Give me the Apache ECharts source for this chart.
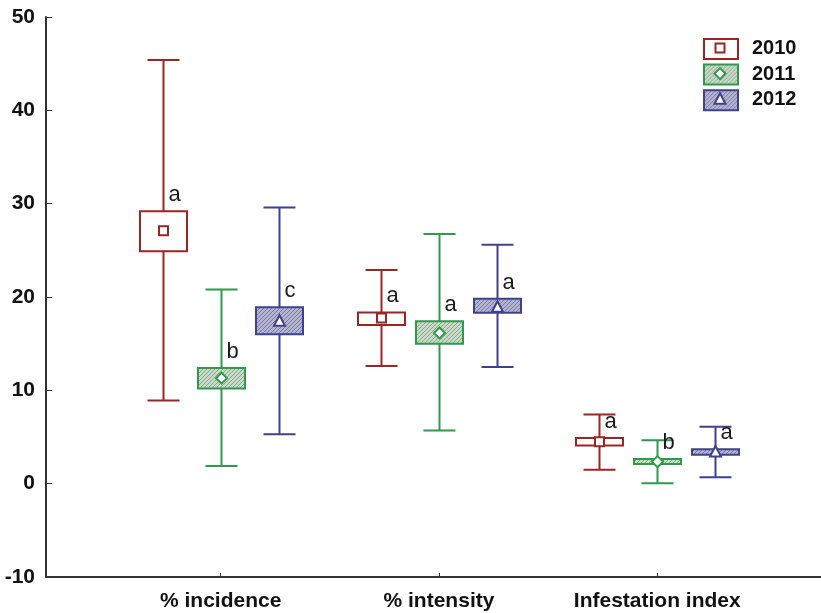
<!DOCTYPE html>
<html>
<head>
<meta charset="utf-8">
<script src="https://cdn.jsdelivr.net/npm/echarts@6/dist/echarts.min.js"></script>
<style>html,body{margin:0;padding:0;background:#fff;}#c{width:821px;height:613px;}</style>
</head>
<body>
<div id="c"></div>
<script>
const categories = ['% incidence', '% intensity', 'Infestation index'];
const years = ['2010', '2011', '2012'];
// per category: [lower whisker, box low, mean, box high, upper whisker]
const values2010 = [[8.9, 24.9, 27.1, 29.2, 45.4], [12.6, 17.0, 17.75, 18.35, 22.9], [1.5, 4.1, 4.5, 4.9, 7.4]];
const values2011 = [[1.9, 10.2, 11.3, 12.4, 20.8], [5.7, 15.0, 16.15, 17.4, 26.75], [0.05, 2.1, 2.36, 2.64, 4.64]];
const values2012 = [[5.3, 16.0, 17.4, 18.9, 29.6], [12.5, 18.3, 18.9, 19.8, 25.6], [0.7, 3.1, 3.4, 3.7, 6.1]];
const letters2010 = ['a', 'a', 'a'];
const letters2011 = ['b', 'a', 'b'];
const letters2012 = ['c', 'a', 'a'];
const yTicks = [-10, 0, 10, 20, 30, 40, 50];

const seriesValues = [values2010, values2011, values2012];
const seriesLetters = [letters2010, letters2011, letters2012];
const lineColors = ['#9a2525', '#2f9a4c', '#40408f'];
const markerTypes = ['square', 'diamond', 'triangle'];
const offsets = [-0.265, 0, 0.265];

function makePattern(bg, fg) {
  const cv = document.createElement('canvas');
  cv.width = 4; cv.height = 4;
  const ctx = cv.getContext('2d');
  ctx.fillStyle = bg; ctx.fillRect(0, 0, 4, 4);
  ctx.strokeStyle = fg; ctx.lineWidth = 1;
  ctx.beginPath();
  ctx.moveTo(0, 4); ctx.lineTo(4, 0);
  ctx.moveTo(-1, 1); ctx.lineTo(1, -1);
  ctx.moveTo(3, 5); ctx.lineTo(5, 3);
  ctx.stroke();
  return cv;
}
const fills = [
  '#ffffff',
  { image: makePattern('#c9dac9', '#8aa68a'), repeat: 'repeat' },
  { image: makePattern('#b4b4cf', '#7a7aa6'), repeat: 'repeat' }
];

function markerShape(type, cx, cy, color) {
  const s = { fill: '#fff', stroke: color, lineWidth: 2 };
  if (type === 'square') {
    return { type: 'rect', shape: { x: cx - 4.5, y: cy - 4.5, width: 9, height: 9 }, style: s, z2: 5 };
  } else if (type === 'diamond') {
    return { type: 'polygon', shape: { points: [[cx, cy - 5.5], [cx + 5.5, cy], [cx, cy + 5.5], [cx - 5.5, cy]] }, style: s, z2: 5 };
  }
  return { type: 'polygon', shape: { points: [[cx, cy - 6], [cx + 5.5, cy + 4.5], [cx - 5.5, cy + 4.5]] }, style: s, z2: 5 };
}

function makeRender(si) {
  return function (params, api) {
    const x = api.value(0);
    const pLow = api.coord([x, api.value(1)]);
    const pQ1 = api.coord([x, api.value(2)]);
    const pMean = api.coord([x, api.value(3)]);
    const pQ3 = api.coord([x, api.value(4)]);
    const pHigh = api.coord([x, api.value(5)]);
    const cx = Math.round(pLow[0]) + 0.5;
    const col = lineColors[si];
    const ls = { stroke: col, lineWidth: 2, fill: null };
    const bw = 47, cw = 32;
    const children = [
      { type: 'line', shape: { x1: cx, y1: pHigh[1], x2: cx, y2: pQ3[1] }, style: ls },
      { type: 'line', shape: { x1: cx, y1: pQ1[1], x2: cx, y2: pLow[1] }, style: ls },
      { type: 'line', shape: { x1: cx - cw / 2, y1: pHigh[1], x2: cx + cw / 2, y2: pHigh[1] }, style: ls },
      { type: 'line', shape: { x1: cx - cw / 2, y1: pLow[1], x2: cx + cw / 2, y2: pLow[1] }, style: ls },
      { type: 'rect', shape: { x: cx - bw / 2, y: pQ3[1], width: bw, height: pQ1[1] - pQ3[1] }, style: { fill: fills[si], stroke: col, lineWidth: 2 } },
      markerShape(markerTypes[si], cx, pMean[1], col),
      { type: 'text', x: cx + 5, y: pQ3[1] - 5, style: { text: seriesLetters[si][params.dataIndex], fill: '#1a1a1a', font: '22px "Liberation Sans", Arial, sans-serif', align: 'left', verticalAlign: 'bottom' } }
    ];
    return { type: 'group', children: children };
  };
}

const series = years.map(function (yr, si) {
  return {
    type: 'custom',
    name: yr,
    renderItem: makeRender(si),
    encode: { x: 0, y: [1, 2, 3, 4, 5] },
    data: seriesValues[si].map(function (v, ci) { return [ci + 1 + offsets[si]].concat(v); }),
    clip: false
  };
});

// legend drawn as graphic elements
const legendGraphics = [];
years.forEach(function (yr, si) {
  const top = 38 + si * 25.6;
  const col = lineColors[si];
  legendGraphics.push({ type: 'rect', left: 703, top: top, shape: { width: 34, height: 20 }, style: { fill: fills[si], stroke: col, lineWidth: 2 } });
  const m = markerShape(markerTypes[si], 720, top + 10, col);
  m.z = 10;
  legendGraphics.push(m);
  legendGraphics.push({ type: 'text', left: 752, top: top + 0.5, style: { text: yr, fill: '#111', font: 'bold 20px "Liberation Sans", Arial, sans-serif' } });
});

const chart = echarts.init(document.getElementById('c'), null, { renderer: 'canvas' });
chart.setOption({
  animation: false,
  backgroundColor: '#fff',
  grid: { left: 46, top: 17, right: 0, bottom: 36, containLabel: false },
  xAxis: {
    type: 'value', min: 0.2, max: 3.75,
    splitLine: { show: false },
    axisLine: { show: true, onZero: false, lineStyle: { color: '#333', width: 2 } },
    axisTick: { show: true, inside: true, length: 4, customValues: [1, 2, 3], lineStyle: { color: '#333', width: 1 } },
    axisLabel: {
      customValues: [1, 2, 3],
      formatter: function (v) { return categories[Math.round(v) - 1]; },
      color: '#111', fontWeight: 'bold', fontSize: 21, fontFamily: 'Liberation Sans', margin: 14
    }
  },
  yAxis: {
    type: 'value', min: yTicks[0], max: yTicks[yTicks.length - 1], interval: 10,
    splitLine: { show: false },
    axisLine: { show: true, onZero: false, lineStyle: { color: '#333', width: 2 } },
    axisTick: { show: true, inside: true, length: 6, lineStyle: { color: '#333', width: 1 } },
    axisLabel: { color: '#111', fontWeight: 'bold', fontSize: 21, fontFamily: 'Liberation Sans', margin: 11 }
  },
  graphic: legendGraphics,
  series: series
});
</script>
</body>
</html>
